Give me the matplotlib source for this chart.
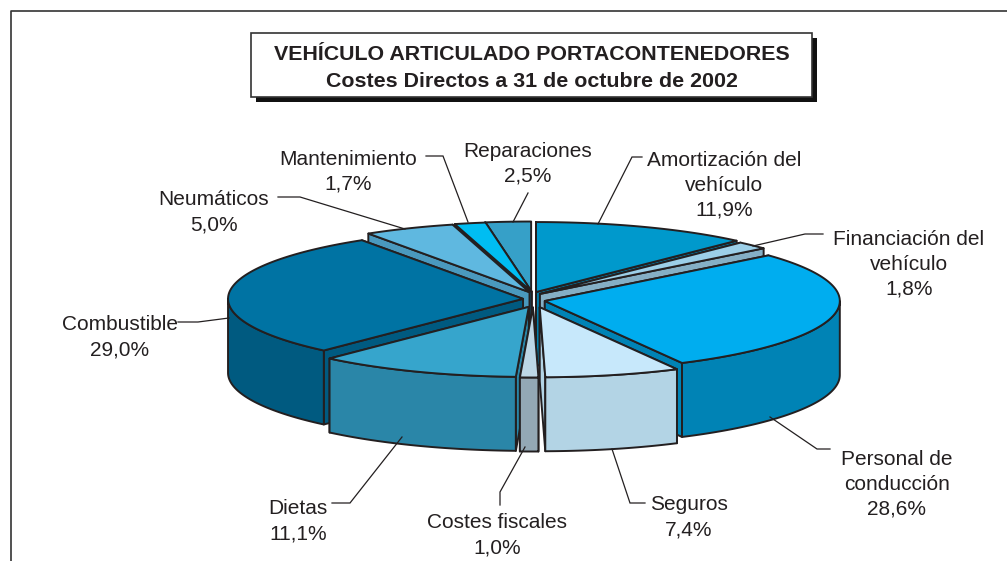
"""Exploded 3D-look pie: direct costs of an articulated container truck."""

import matplotlib
matplotlib.use("Agg")
import matplotlib.pyplot as plt
import numpy as np

plt.rcParams["font.family"] = ["Liberation Sans", "DejaVu Sans"]

TITLE = "VEHÍCULO ARTICULADO PORTACONTENEDORES\nCostes Directos a 31 de octubre de 2002"

CATEGORIES = [
    "Amortización del\nvehículo", "Financiación del\nvehículo",
    "Personal de\nconducción", "Seguros", "Costes fiscales",
    "Dietas", "Combustible", "Neumáticos", "Mantenimiento", "Reparaciones",
]
VALUES = [11.9, 1.8, 28.6, 7.4, 1.0, 11.1, 29.0, 5.0, 1.7, 2.5]

TOP_COLORS = ["#0099CC", "#9CCFE8", "#00ADEF", "#C7E8FB", "#BDD7E6",
              "#36A5CC", "#0073A3", "#5FB8E0", "#00BDF2", "#36A0C8"]
WALL_COLORS = ["#007FAB", "#85AFC5", "#0083B5", "#B3D4E5", "#93A8B5",
               "#2A86A8", "#005A80", "#4A99BE", "#0095C5", "#2A82A5"]

# pie geometry in pixels
CX, CY = 534, 299.5
RX, RY = 295, 70
DEPTH = 74
EXPLODE_X, EXPLODE_Y = 11, 8
# small sideways nudges, the slices in the original are not quite regular
EXTRA_DX = [-2, -2, 0, 3, -1, -1, 0, 0, 0, -2]

LINE_COLOR = "#231F20"

# label centre and leader polyline, same order as CATEGORIES
LABEL_POS = [(724, 184), (909, 263), (897, 483), (689, 516), (497, 534),
             (298, 520), (120, 336), (214, 211), (348, 170.5), (528, 162.5)]
LEADERS = [
    [(598, 224), (632, 157), (642, 157)],
    [(753, 246), (805, 234), (823, 234)],
    [(770, 417), (817, 449), (830, 449)],
    [(612, 449), (630, 503), (645, 503)],
    [(525, 447), (500, 492), (500, 505)],
    [(402, 437), (350, 503), (332, 503)],
    [(229, 318), (198, 322), (178, 322)],
    [(405, 229), (300, 197), (278, 197)],
    [(468, 222), (443, 156), (426, 156)],
    [(513, 222), (528, 193)],
]


def draw_wedge(ax, start, end, i):
    """Draw one slice: radial faces, then outer wall, then the top."""
    mid = np.radians((start + end) / 2)
    cx = CX + EXPLODE_X * np.sin(mid) + EXTRA_DX[i]
    cy = CY - EXPLODE_Y * np.cos(mid)

    def rim(deg):
        a = np.radians(deg)
        return cx + RX * np.sin(a), cy - RY * np.cos(a)

    style = dict(edgecolor=LINE_COLOR, linewidth=1.4, joinstyle="round")

    # radial faces, back one first
    faces = []
    for deg in (start, end):
        x, y = rim(deg)
        faces.append((y, [cx, x, x, cx], [cy, y, y + DEPTH, cy + DEPTH]))
    for _, fx, fy in sorted(faces, key=lambda f: f[0]):
        ax.fill(fx, fy, facecolor=WALL_COLORS[i], **style)

    # outer wall, only the part turned to the viewer
    lo, hi = max(start, 90), min(end, 270)
    if hi > lo:
        arc = np.linspace(lo, hi, 80)
        x, y = rim(arc)
        ax.fill(np.r_[x, x[::-1]], np.r_[y, y[::-1] + DEPTH],
                facecolor=WALL_COLORS[i], **style)

    arc = np.linspace(start, end, 120)
    x, y = rim(arc)
    ax.fill(np.r_[cx, x], np.r_[cy, y], facecolor=TOP_COLORS[i], **style)


def main():
    fig = plt.figure(figsize=(10.07, 5.61), dpi=100)
    ax = fig.add_axes([0, 0, 1, 1])
    ax.set_xlim(0, 1007)
    ax.set_ylim(561, 0)
    ax.axis("off")

    # outer frame, open to the right and bottom
    ax.plot([10.5, 10.5, 1007], [561, 10.5, 10.5], color="#333333", lw=1.2)

    # title box with hard shadow
    ax.add_patch(plt.Rectangle((256, 38), 561, 64, facecolor="#111111", edgecolor="none"))
    ax.add_patch(plt.Rectangle((251, 33), 561, 64, facecolor="white",
                               edgecolor="#333333", lw=1.2))
    ax.text(532, 68, TITLE, ha="center", va="center", fontsize=15.4,
            fontweight="bold", color=LINE_COLOR, linespacing=1.53)

    edges = np.r_[0, np.cumsum(VALUES)] / sum(VALUES) * 360
    mids = (edges[:-1] + edges[1:]) / 2
    # painter's order: back slices first
    for i in np.argsort(-np.cos(np.radians(mids))):
        draw_wedge(ax, edges[i], edges[i + 1], i)

    for pts in LEADERS:
        xs, ys = zip(*pts)
        ax.plot(xs, ys, color=LINE_COLOR, lw=0.9, solid_joinstyle="miter")

    for name, value, (x, y) in zip(CATEGORIES, VALUES, LABEL_POS):
        label = f"{name}\n{value:.1f}%".replace(".", ",")
        ax.text(x, y + 1, label, ha="center", va="center", fontsize=15.0,
                color=LINE_COLOR, linespacing=1.4)

    fig.savefig("out.png", dpi=100)
    plt.close(fig)


if __name__ == "__main__":
    main()
